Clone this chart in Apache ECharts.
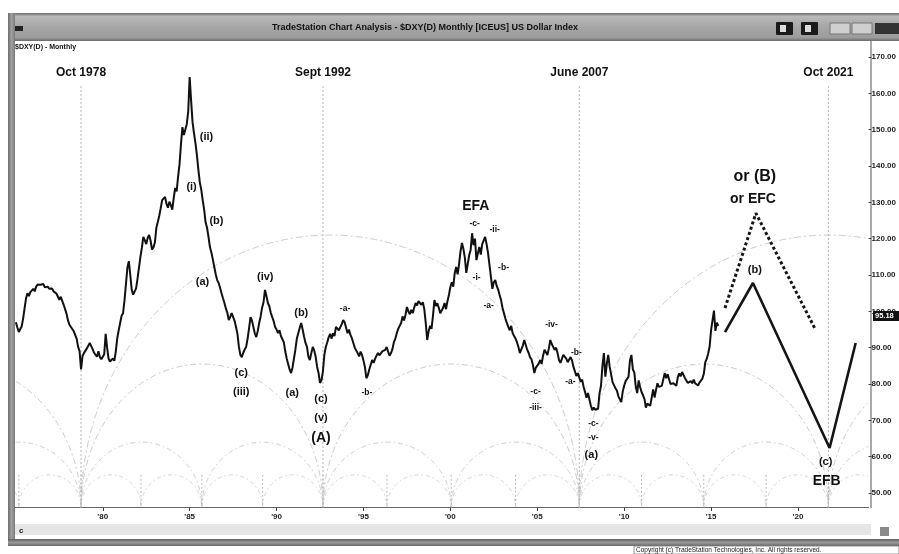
<!DOCTYPE html>
<html><head><meta charset="utf-8">
<script src="https://cdn.jsdelivr.net/npm/echarts@6/dist/echarts.min.js"></script>
<style>html,body{margin:0;padding:0;background:#fff}#c{width:899px;height:554px}</style>
</head><body><div id="c"></div>
<script>
// ---------- DATA ----------
const START_YEAR = 1975; // first monthly value = Jan 1975
const dxyMonthly = [
 97.0, 95.6, 94.3, 94.0, 95.8, 98.0, 100.8, 103.5, 105.0, 104.2, 105.3, 105.8,   // 1975
 106.2, 105.5, 106.8, 107.4, 107.8, 107.3, 106.9, 107.5, 106.6, 106.4, 106.8, 106.2, // 1976
 105.9, 106.3, 105.5, 105.2, 104.9, 104.4, 103.2, 104.0, 103.5, 101.8, 100.6, 99.3, // 1977
 97.5, 96.3, 95.7, 95.9, 94.5, 94.0, 92.4, 90.2, 89.0, 84.0, 87.6, 88.5,           // 1978
 89.0, 89.8, 90.5, 91.3, 90.8, 89.6, 88.6, 88.3, 87.5, 89.0, 87.4, 86.8,           // 1979
 86.3, 88.2, 93.8, 90.0, 87.0, 86.2, 85.8, 87.0, 86.4, 89.0, 92.6, 94.8,           // 1980
 96.8, 98.8, 99.5, 103.0, 107.5, 112.0, 113.8, 110.0, 105.9, 104.6, 105.0, 106.3,  // 1981
 109.0, 112.0, 115.0, 117.5, 120.5, 119.6, 118.5, 120.2, 121.0, 119.5, 117.0, 117.6, // 1982
 119.0, 123.0, 124.6, 126.3, 128.4, 130.6, 131.0, 131.5, 129.6, 128.5, 130.2, 129.2, // 1983
 128.0, 131.2, 134.0, 133.0, 137.0, 140.5, 146.0, 150.7, 148.5, 148.0, 151.5, 155.0, // 1984
 164.5, 158.0, 152.0, 149.0, 146.3, 143.0, 139.0, 135.5, 133.5, 130.6, 128.0, 124.5, // 1985
 123.0, 120.5, 117.7, 116.2, 114.3, 112.2, 110.2, 108.6, 107.8, 106.5, 105.0, 103.6, // 1986
 102.3, 100.8, 99.6, 97.6, 98.5, 99.5, 99.0, 97.4, 95.7, 93.8, 90.2, 88.0,         // 1987
 87.4, 88.6, 89.5, 90.2, 92.5, 95.3, 98.4, 97.5, 95.7, 93.9, 92.9, 94.6,           // 1988
 96.8, 98.6, 101.0, 102.5, 105.9, 104.2, 102.3, 101.4, 99.6, 98.4, 97.3, 95.7,     // 1989
 95.0, 94.0, 94.8, 93.2, 92.9, 91.5, 89.0, 87.0, 86.5, 84.0, 83.0, 84.5,           // 1990
 84.8, 89.5, 92.5, 94.0, 95.5, 96.8, 95.0, 93.0, 91.3, 90.2, 87.5, 86.6,           // 1991
 88.5, 90.2, 89.2, 87.5, 84.7, 83.0, 80.3, 81.0, 83.5, 88.0, 90.2, 91.5,           // 1992
 92.9, 93.8, 92.5, 94.0, 93.2, 95.7, 96.2, 94.8, 95.3, 96.5, 97.6, 97.0,           // 1993
 96.5, 94.0, 95.0, 93.5, 92.6, 91.3, 90.0, 89.8, 88.5, 87.6, 88.9, 88.0,           // 1994
 86.5, 84.7, 81.6, 82.4, 84.0, 83.5, 86.6, 85.8, 86.9, 87.8, 88.5, 87.9,           // 1995
 88.2, 89.0, 88.6, 89.4, 90.2, 88.9, 87.8, 88.5, 89.6, 91.5, 92.5, 94.0,           // 1996
 95.2, 96.0, 96.8, 98.6, 97.5, 99.0, 101.2, 100.0, 99.2, 100.4, 99.5, 101.0,       // 1997
 102.3, 101.6, 102.8, 103.1, 101.8, 102.5, 100.6, 96.8, 92.1, 94.5, 96.0, 95.2,    // 1998
 98.8, 103.1, 101.5, 102.2, 101.0, 99.5, 100.2, 101.0, 102.3, 100.6, 102.8, 104.5, // 1999
 106.7, 108.0, 106.8, 110.5, 112.2, 110.2, 113.0, 116.5, 118.8, 117.2, 114.8, 110.6, // 2000
 113.0, 115.5, 116.9, 121.5, 118.2, 120.0, 114.1, 116.0, 117.7, 115.6, 118.5, 119.0, // 2001
 120.5, 118.5, 116.1, 112.8, 109.5, 106.2, 108.0, 108.6, 107.0, 106.0, 104.5, 103.1, // 2002
 101.0, 99.5, 98.0, 96.8, 95.7, 94.8, 96.0, 94.0, 93.2, 92.5, 91.5, 90.2,          // 2003
 88.5, 89.5, 90.5, 92.1, 90.8, 89.5, 88.6, 87.4, 86.8, 85.2, 83.0, 84.5,           // 2004
 84.8, 85.6, 86.6, 85.5, 87.8, 89.4, 89.0, 88.0, 89.8, 92.1, 91.0, 90.5,           // 2005
 89.4, 90.0, 88.5, 86.6, 85.8, 86.9, 88.0, 88.5, 87.0, 86.0, 86.5, 87.4,           // 2006
 86.5, 84.7, 84.2, 82.2, 83.0, 82.6, 80.6, 81.2, 79.2, 77.8, 76.2, 77.5,           // 2007
 75.8, 74.0, 72.8, 73.5, 72.9, 72.8, 73.2, 77.5, 79.5, 85.0, 88.5, 82.0,           // 2008
 85.5, 88.0, 84.7, 84.5, 80.5, 80.2, 78.8, 78.2, 76.6, 76.3, 75.0, 77.9,           // 2009
 79.5, 80.8, 81.2, 82.0, 86.5, 88.0, 84.0, 83.2, 79.3, 77.5, 81.0, 79.2,           // 2010
 77.8, 76.9, 75.9, 73.5, 74.6, 74.3, 74.0, 74.3, 78.5, 76.3, 78.4, 80.2,           // 2011
 79.2, 78.9, 79.5, 79.1, 83.0, 81.6, 82.7, 81.3, 80.0, 79.9, 80.2, 79.8,           // 2012
 79.5, 81.8, 82.9, 82.1, 83.3, 83.0, 81.6, 81.9, 80.3, 80.2, 80.8, 80.2,           // 2013
 81.2, 80.2, 80.1, 79.6, 80.4, 79.9, 81.5, 82.8, 86.0, 86.9, 88.4, 90.3,           // 2014
 94.8, 95.3, 100.2, 94.6, 96.9, 96.0                                                 // 2015
];
const lastValueLabel = '95.18';

const xTickYears  = [1980, 1985, 1990, 1995, 2000, 2005, 2010, 2015, 2020];
const xTickLabels = ["'80", "'85", "'90", "'95", "'00", "'05", "'10", "'15", "'20"];

const cycleYears  = [1978.75, 1992.67, 2007.42, 2021.75];
const cycleNames  = ['Oct 1978', 'Sept 1992', 'June 2007', 'Oct 2021'];
const halfCycleYears   = [1964.42, 1978.75, 1992.67, 2007.42, 2021.75, 2036.08];
const quarterCycleYears = [1971.58, 1978.75, 1985.7, 1992.67, 2000.05, 2007.42, 2014.58, 2021.75, 2028.92];
const eighthCycleYears = [1971.58, 1975.17, 1978.75, 1982.2, 1985.7, 1989.2, 1992.67, 1996.35, 2000.05,
                          2003.75, 2007.42, 2011.0, 2014.58, 2018.17, 2021.75, 2025.3];
const bigArcs = [[1978.75, 2007.42], [2007.42, 2036.08]];
const arcTops = { big: 121, half: 85.5, quarter: 64, eighth: 55 };

const projSolid  = [[2015.80, 94.3], [2017.41, 107.8], [2021.82, 62.4], [2023.32, 91.3]];
const projDotted = [[2015.80, 100.9], [2017.58, 127.0], [2020.96, 95.4]];

const waveLabels = [
 ['(ii)', 1985.97, 148.0], ['(i)', 1985.11, 134.2], ['(b)', 1986.54, 124.9], ['(a)', 1985.74, 108.1],
 ['(iv)', 1989.35, 109.5], ['(c)', 1987.97, 83.0], ['(iii)', 1987.97, 77.8], ['(a)', 1990.90, 77.5],
 ['(b)', 1991.42, 99.5], ['(c)', 1992.56, 75.9], ['(v)', 1992.56, 70.6], ['(a)', 2008.11, 60.5],
 ['(b)', 2017.52, 111.4], ['(c)', 2021.59, 58.5]
];
const minorLabels = [
 ['-a-', 1993.94, 100.6], ['-b-', 1995.20, 77.5], ['-c-', 2001.40, 124.0], ['-ii-', 2002.55, 122.4],
 ['-i-', 2001.51, 109.2], ['-b-', 2003.06, 111.9], ['-a-', 2002.20, 101.7], ['-iv-', 2005.82, 96.2],
 ['-c-', 2004.90, 77.8], ['-iii-', 2004.90, 73.4], ['-b-', 2007.25, 88.5], ['-a-', 2006.91, 80.6],
 ['-c-', 2008.23, 69.0], ['-v-', 2008.23, 65.1]
];
const majorLabels = [
 ['(A)', 1992.56, 65.1], ['EFA', 2001.46, 129.0], ['or EFC', 2017.41, 130.9], ['EFB', 2021.65, 53.3]
];
const topLabels = [ ['or (B)', 2017.52, 137.0] ];
const headerValue = 165.6;

// ---------- CHART ----------
const X_MIN = 1974.95, X_MAX = 2024.06, BASE = 46.1;
const FONT = "'Liberation Sans', Arial, sans-serif";
const chart = echarts.init(document.getElementById('c'));

const priceData = dxyMonthly.map((v, i) => [START_YEAR + i / 12, v]);
const pairs = arr => arr.slice(0, -1).map((v, i) => [v, arr[i + 1]]);

function arcSeries(spans, top, color, dash, width) {
  return {
    type: 'custom', silent: true, z: 1, animation: false,
    data: spans.map(s => [(s[0] + s[1]) / 2, top]),
    renderItem(params, api) {
      const s = spans[params.dataIndex];
      const cx = (s[0] + s[1]) / 2, hw = (s[1] - s[0]) / 2;
      const pts = [];
      const N = 120;
      for (let k = 0; k <= N; k++) {
        const t = Math.PI * k / N;
        const xv = cx - hw * Math.cos(t);
        if (xv < X_MIN || xv > X_MAX) continue;
        pts.push(api.coord([xv, BASE + (top - BASE) * Math.sin(t)]));
      }
      if (pts.length < 2) return null;
      return { type: 'polyline', shape: { points: pts },
        style: { fill: null, stroke: color, lineWidth: width, lineDash: dash } };
    }
  };
}

function vlineSeries(years, topVal, color, dash, width) {
  return {
    type: 'custom', silent: true, z: 2, animation: false,
    data: years.filter(y => y >= X_MIN && y <= X_MAX).map(y => [y, topVal]),
    renderItem(params, api) {
      const p1 = api.coord([api.value(0), topVal]);
      const p2 = api.coord([api.value(0), BASE]);
      return { type: 'line', shape: { x1: p1[0], y1: p1[1], x2: p2[0], y2: p2[1] },
        style: { stroke: color, lineWidth: width, lineDash: dash } };
    }
  };
}

function textSeries(items, font, z) {
  return {
    type: 'custom', silent: true, z: z || 10, animation: false,
    data: items.map(t => [t[1], t[2]]),
    renderItem(params, api) {
      const t = items[params.dataIndex];
      const p = api.coord([t[1], t[2]]);
      return { type: 'text', x: p[0], y: p[1],
        style: { text: t[0], font: font, fill: '#111', align: 'center', verticalAlign: 'middle' } };
    }
  };
}

const headerItems = cycleNames.map((n, i) => [n, cycleYears[i], headerValue]);

const option = {
  animation: false,
  backgroundColor: '#ffffff',
  grid: { left: 15, right: 28, top: 57, bottom: 61, containLabel: false },
  xAxis: {
    type: 'value', min: X_MIN, max: X_MAX, offset: 14,
    axisLine: { show: true, lineStyle: { color: '#666', width: 1 } },
    axisTick: { show: true, length: 4, customValues: xTickYears, lineStyle: { color: '#444' } },
    axisLabel: { show: true, customValues: xTickYears, margin: 6,
      formatter: v => xTickLabels[xTickYears.indexOf(Math.round(v))] || '',
      fontSize: 8, fontWeight: 'bold', color: '#222', fontFamily: FONT },
    splitLine: { show: false }
  },
  yAxis: {
    type: 'value', position: 'right', min: 50, max: 170, interval: 10,
    axisLine: { show: false },
    axisTick: { show: true, length: 3, inside: false, lineStyle: { color: '#444' } },
    axisLabel: { show: true, margin: 3, formatter: v => v.toFixed(2),
      fontSize: 8, fontWeight: 'bold', color: '#222', fontFamily: FONT },
    splitLine: { show: false }
  },
  series: [
    arcSeries(bigArcs, arcTops.big, '#cdcdcd', [7, 3, 2, 3], 1),
    arcSeries(pairs(halfCycleYears), arcTops.half, '#cbcbcb', [6, 3, 2, 3], 1),
    arcSeries(pairs(quarterCycleYears), arcTops.quarter, '#cecece', [5, 3, 1.5, 3], 1),
    arcSeries(pairs(eighthCycleYears), arcTops.eighth, '#d2d2d2', [4, 3, 1.5, 3], 1),
    vlineSeries(cycleYears, 162, '#b4b4b4', [2, 2], 1),
    vlineSeries(eighthCycleYears, 55, '#bcbcbc', [2, 2], 1),
    {
      type: 'line', data: priceData, showSymbol: false, symbol: 'none', z: 5,
      lineStyle: { color: '#111', width: 2 }, clip: false
    },
    {
      type: 'line', data: projSolid, showSymbol: false, symbol: 'none', z: 5,
      lineStyle: { color: '#151515', width: 2.6 }, clip: false
    },
    {
      type: 'line', data: projDotted, showSymbol: false, symbol: 'none', z: 5,
      lineStyle: { color: '#151515', width: 3, type: [3, 2.5] }, clip: false
    },
    textSeries(headerItems, "bold 12px " + FONT),
    textSeries(waveLabels, "bold 11px " + FONT),
    textSeries(minorLabels, "bold 8.5px " + FONT),
    textSeries(majorLabels, "bold 14px " + FONT),
    textSeries(topLabels, "bold 16px " + FONT)
  ],
  graphic: [
    // title bar
    { type: 'rect', z: 100, shape: { x: 8, y: 13, width: 891, height: 28 },
      style: { fill: new echarts.graphic.LinearGradient(0, 0, 0, 1, [
        { offset: 0, color: '#6e6e6e' }, { offset: 0.12, color: '#b9b9b9' },
        { offset: 0.5, color: '#a6a6a6' }, { offset: 0.88, color: '#9c9c9c' }, { offset: 1, color: '#6a6a6a' }]) } },
    { type: 'text', z: 101, x: 425, y: 28, style: { text: 'TradeStation Chart Analysis - $DXY(D) Monthly [ICEUS] US Dollar Index',
        font: "bold 9px " + FONT, fill: '#111', align: 'center', verticalAlign: 'middle' } },
    { type: 'rect', z: 101, shape: { x: 15, y: 26, width: 8, height: 5 }, style: { fill: '#222' } },
    { type: 'rect', z: 101, shape: { x: 776, y: 22, width: 17, height: 13, r: 1 }, style: { fill: '#1a1a1a' } },
    { type: 'rect', z: 102, shape: { x: 780, y: 25, width: 6, height: 7 }, style: { fill: '#ddd' } },
    { type: 'rect', z: 101, shape: { x: 801, y: 22, width: 17, height: 13, r: 1 }, style: { fill: '#1a1a1a' } },
    { type: 'rect', z: 102, shape: { x: 805, y: 25, width: 6, height: 7 }, style: { fill: '#ddd' } },
    { type: 'rect', z: 101, shape: { x: 830, y: 23, width: 20, height: 11 }, style: { fill: '#cfcfcf', stroke: '#777', lineWidth: 1 } },
    { type: 'rect', z: 101, shape: { x: 852, y: 23, width: 20, height: 11 }, style: { fill: '#cfcfcf', stroke: '#777', lineWidth: 1 } },
    { type: 'rect', z: 101, shape: { x: 875, y: 23, width: 24, height: 11 }, style: { fill: '#333' } },
    { type: 'text', z: 101, x: 15, y: 47, style: { text: '$DXY(D) - Monthly', font: "bold 7px " + FONT, fill: '#111', verticalAlign: 'middle' } },
    // left frame bar
    { type: 'rect', z: 100, shape: { x: 8, y: 13, width: 7, height: 533 },
      style: { fill: new echarts.graphic.LinearGradient(0, 0, 1, 0, [
        { offset: 0, color: '#6c6c6c' }, { offset: 0.5, color: '#a0a0a0' }, { offset: 1, color: '#7a7a7a' }]) } },
    // right axis line
    { type: 'line', z: 100, shape: { x1: 871, y1: 41, x2: 871, y2: 508 }, style: { stroke: '#555', lineWidth: 1 } },
    // scroll strip
    { type: 'rect', z: 99, shape: { x: 15, y: 524, width: 856, height: 11 }, style: { fill: '#e6e6e6' } },
    { type: 'text', z: 101, x: 19, y: 531, style: { text: 'c', font: "bold 8px " + FONT, fill: '#222', verticalAlign: 'middle' } },
    { type: 'rect', z: 101, shape: { x: 880, y: 527, width: 9, height: 9 }, style: { fill: '#8a8a8a' } },
    // bottom frame bar
    { type: 'rect', z: 100, shape: { x: 8, y: 539, width: 891, height: 7 },
      style: { fill: new echarts.graphic.LinearGradient(0, 0, 0, 1, [
        { offset: 0, color: '#5e5e5e' }, { offset: 0.5, color: '#9a9a9a' }, { offset: 1, color: '#6a6a6a' }]) } },
    // last value box
    { type: 'rect', z: 101, shape: { x: 873, y: 311, width: 26, height: 10 }, style: { fill: '#111' } },
    { type: 'text', z: 102, x: 875, y: 316, style: { text: lastValueLabel, font: "bold 7.5px " + FONT, fill: '#fff', verticalAlign: 'middle' } },
    // copyright strip
    { type: 'text', z: 101, x: 636, y: 550, style: { text: 'Copyright (c) TradeStation Technologies, Inc. All rights reserved.',
        font: "6.5px " + FONT, fill: '#222', verticalAlign: 'middle' } },
    { type: 'rect', z: 100, shape: { x: 634, y: 546, width: 265, height: 8 }, style: { fill: null, stroke: '#777', lineWidth: 0.8 } }
  ]
};
chart.setOption(option);
</script></body></html>
